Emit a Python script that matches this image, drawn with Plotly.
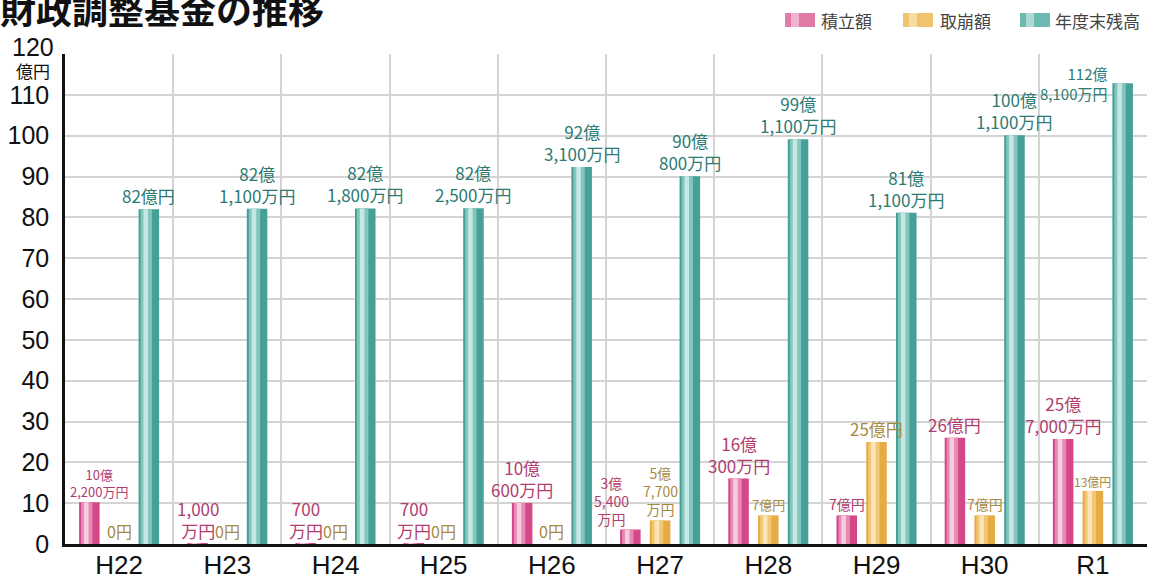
import plotly.graph_objects as go

# ---------------- data ----------------
categories = ["H22", "H23", "H24", "H25", "H26", "H27", "H28", "H29", "H30", "R1"]
series_names = ["積立額", "取崩額", "年度末残高"]

# values in 億円
reserve = [10.22, 0.10, 0.07, 0.07, 10.06, 3.54, 16.03, 7.00, 26.00, 25.70]      # 積立額
withdraw = [0.00, 0.00, 0.00, 0.00, 0.00, 5.77, 7.00, 25.00, 7.00, 13.00]        # 取崩額
balance = [82.00, 82.11, 82.18, 82.25, 92.31, 90.08, 99.11, 81.11, 100.11, 112.81]  # 年度末残高

reserve_labels = ["10億<br>2,200万円", "1,000<br>万円", "700<br>万円", "700<br>万円",
                  "10億<br>600万円", "3億<br>5,400<br>万円", "16億<br>300万円", "7億円",
                  "26億円", "25億<br>7,000万円"]
withdraw_labels = ["0円", "0円", "0円", "0円", "0円", "5億<br>7,700<br>万円", "7億円",
                   "25億円", "7億円", "13億円"]
balance_labels = ["82億円", "82億<br>1,100万円", "82億<br>1,800万円", "82億<br>2,500万円",
                  "92億<br>3,100万円", "90億<br>800万円", "99億<br>1,100万円",
                  "81億<br>1,100万円", "100億<br>1,100万円", "112億<br>8,100万円"]

y_tickvals = [0, 10, 20, 30, 40, 50, 60, 70, 80, 90, 100, 110, 120]
y_ticktext = ["0", "10", "20", "30", "40", "50", "60", "70", "80", "90", "100", "110", "120"]
unit_label = "億円"
title_text = "財政調整基金の推移"

# ---------------- styles ----------------
W, H = 1156, 579
ML, MR, MT, MB = 65, 9, 54, 35
PW, PH = W - ML - MR, H - MT - MB
CAT_PX = PW / len(categories)

def px(xp):
    return (xp - ML) / PW

def py(yp):
    return (H - MB - yp) / PH

LABEL_FONT = "Noto Sans CJK JP"
TICK_FONT = "Liberation Sans, Arial, sans-serif"

BAR_W = 0.19
CENTERS = [-0.275, 0.0, 0.275]
palettes = [
    ["#d4488a", "#e78ab3", "#f6cde0"],
    ["#e6ab44", "#f1c776", "#fbe5b8"],
    ["#46a097", "#84c6be", "#c6e8e4"],
]
swatch_colors = ["#e07aa6", "#efc46c", "#6db8b0"]
text_colors = ["#b03d70", "#a88a3e", "#2d7a73"]
label_sizes = [
    [13, 17, 17, 17, 17, 14, 17, 14, 17, 17],
    [16, 16, 16, 16, 16, 14, 13, 17, 14, 12],
    [17, 17, 17, 17, 17, 17, 17, 17, 17, 15],
]
LABEL_YSHIFT = -1
# (start fraction within bar, width fraction, palette index) for shading layers
layers = [(0.0, 1.0, 0), (0.10, 0.55, 1), (0.24, 0.22, 2)]

values = [reserve, withdraw, balance]
labels = [reserve_labels, withdraw_labels, balance_labels]

# labels placed away from the default "centred above the bar" spot
special = {(0, 0): dict(dx=10, xanchor="center", yanchor="bottom", dy=LABEL_YSHIFT, align="center"),
           (0, 5): dict(dx=-19, xanchor="center", yanchor="bottom", dy=LABEL_YSHIFT, align="center"),
           (2, 9): dict(dx=None, xanchor="right", yanchor="middle", dy=0, align="right")}

fig = go.Figure()
for s in range(3):
    for li, (start, wfrac, ci) in enumerate(layers):
        fig.add_trace(go.Bar(
            x=categories, y=values[s],
            name=series_names[s],
            width=BAR_W * wfrac,
            offset=CENTERS[s] - BAR_W / 2 + BAR_W * start,
            marker=dict(color=palettes[s][ci], line=dict(width=0)),
            showlegend=False,
            hoverinfo="skip" if li > 0 else None,
        ))

annotations = []
for s in range(3):
    for i, cat in enumerate(categories):
        opt = special.get((s, i), dict(dx=0, xanchor="center", yanchor="bottom",
                                       dy=LABEL_YSHIFT, align="center"))
        if opt["dx"] is None:
            xs = (CENTERS[s] - BAR_W / 2) * CAT_PX - 3
        else:
            xs = CENTERS[s] * CAT_PX + opt["dx"]
        annotations.append(dict(
            x=cat, y=values[s][i], xref="x", yref="y",
            text=labels[s][i], showarrow=False, xshift=xs, yshift=opt["dy"],
            xanchor=opt["xanchor"], yanchor=opt["yanchor"], align=opt["align"],
            font=dict(family=LABEL_FONT, size=label_sizes[s][i], color=text_colors[s]),
        ))

# top tick label (raised) and unit label under it
annotations.append(dict(x=px(56), y=py(47), xref="paper", yref="paper", text=y_ticktext[-1],
                        showarrow=False, xanchor="right", yanchor="middle",
                        font=dict(family=TICK_FONT, size=25, color="#111")))
annotations.append(dict(x=px(33), y=py(71), xref="paper", yref="paper", text=unit_label,
                        showarrow=False, xanchor="center", yanchor="middle",
                        font=dict(family=LABEL_FONT, size=17, color="#111")))

# custom legend
legend_swatch_x = [785, 903, 1020]
legend_text_x = [819, 938, 1053]
shapes = []
for k in range(3):
    shapes.append(dict(type="rect", xref="paper", yref="paper",
                       x0=px(legend_swatch_x[k]), x1=px(legend_swatch_x[k] + 30),
                       y0=py(27), y1=py(13), fillcolor=swatch_colors[k], line=dict(width=0)))
    shapes.append(dict(type="rect", xref="paper", yref="paper",
                       x0=px(legend_swatch_x[k] + 6), x1=px(legend_swatch_x[k] + 14),
                       y0=py(27), y1=py(13), fillcolor=palettes[k][2], line=dict(width=0),
                       opacity=0.7))
    annotations.append(dict(x=px(legend_text_x[k]), y=py(20), xref="paper", yref="paper",
                            text=series_names[k], showarrow=False, xanchor="left",
                            yanchor="middle",
                            font=dict(family=LABEL_FONT, size=17, color="#444")))

axis_ticktext = y_ticktext[:-1] + [""]

fig.update_layout(
    width=W, height=H,
    margin=dict(l=ML, r=MR, t=MT, b=MB, pad=0, autoexpand=False),
    barmode="overlay",
    plot_bgcolor="white", paper_bgcolor="white",
    showlegend=False,
    title=dict(text=title_text, xref="container", yref="container", x=0.0, xanchor="left",
               y=1 - 11 / H, yanchor="middle", automargin=False,
               font=dict(family=LABEL_FONT, size=36, color="#111", weight="bold")),
    xaxis=dict(type="category", categoryorder="array", categoryarray=categories,
               tickson="boundaries", showgrid=True, gridcolor="#d4d4d4", gridwidth=2,
               ticks="", showline=True, linecolor="#111", linewidth=3,
               ticklabelstandoff=-4, automargin=False,
               tickfont=dict(family=TICK_FONT, size=26, color="#111"),
               range=[-0.5, len(categories) - 0.5]),
    yaxis=dict(range=[0, 120], tickvals=y_tickvals, ticktext=axis_ticktext,
               showgrid=True, gridcolor="#d4d4d4", gridwidth=2, zeroline=False,
               showline=True, linecolor="#111", linewidth=2.5, ticks="",
               ticklabelstandoff=8, automargin=False,
               tickfont=dict(family=TICK_FONT, size=25, color="#111")),
    annotations=annotations,
    shapes=shapes,
)

fig.write_html("out.html", config={"displayModeBar": False},
               post_script="document.body.style.margin='0';")
